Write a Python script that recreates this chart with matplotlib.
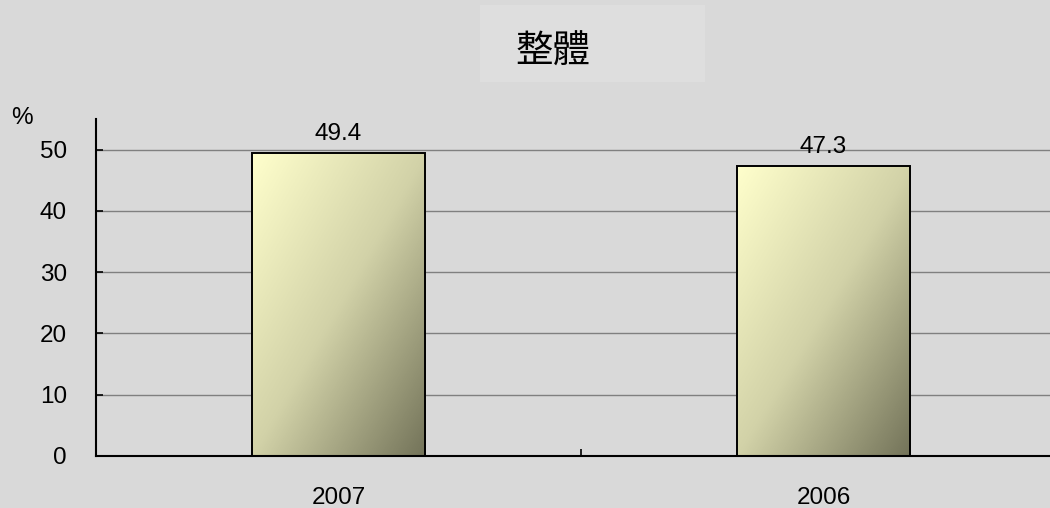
import numpy as np
import matplotlib.pyplot as plt
from matplotlib.colors import LinearSegmentedColormap
from matplotlib.patches import Rectangle

plt.rcParams['font.family'] = ['Liberation Sans', 'Noto Sans CJK TC', 'DejaVu Sans']

title = "整體"
years = ["2007", "2006"]
values = [49.4, 47.3]
y_ticks = [0, 10, 20, 30, 40, 50]

bg = "#d9d9d9"
fs = 17.5
fig = plt.figure(figsize=(10.5, 5.08), dpi=100, facecolor=bg)
ax = fig.add_axes([96 / 1050, 52 / 508, 970 / 1050, 337 / 508])
ax.set_facecolor(bg)

# title box
fig.patches.append(Rectangle((480 / 1050, 1 - 82 / 508), 225 / 1050, 77 / 508,
                             transform=fig.transFigure, facecolor="#dedede",
                             edgecolor="none", zorder=0))
fig.text(553 / 1050, 1 - 52 / 508, title, fontsize=27, ha="center", va="center",
         family=['Noto Sans CJK TC', 'DejaVu Sans'], fontweight="light")

cmap = LinearSegmentedColormap.from_list("g", ["#ffffcc", "#d2d2a8", "#737359"])
u, v = np.meshgrid(np.linspace(0, 1, 200), np.linspace(0, 1, 200))
grad = (u + v) / 2

x = np.arange(len(years))
bars = ax.bar(x, values, width=0.357, facecolor="none", edgecolor="black",
              linewidth=1.4, zorder=3)
for b, val in zip(bars, values):
    x0, w, h = b.get_x(), b.get_width(), b.get_height()
    im = ax.imshow(grad, cmap=cmap, extent=[x0, x0 + w, 0, h], origin="upper",
                   aspect="auto", zorder=2)
    im.set_clip_path(b)
    ax.text(x0 + w / 2, h + 1.3, f"{val:.1f}", ha="center", va="bottom", fontsize=fs)

ax.set_xlim(-0.5, len(years) - 0.5)
ax.set_ylim(0, 55)
ax.set_yticks(y_ticks)
ax.set_xticks(x)
ax.set_xticklabels(years)
ax.set_xticks([0.5], minor=True)
ax.tick_params(axis="x", which="major", length=0, pad=22, labelsize=fs)
ax.tick_params(axis="x", which="minor", direction="in", length=5, width=1.2)
ax.tick_params(axis="y", direction="in", length=5, width=1.2, pad=21, labelsize=fs)
ax.yaxis.grid(True, color="#808080", linewidth=1)
ax.set_axisbelow(True)
for s in ["top", "right"]:
    ax.spines[s].set_visible(False)
for s in ["left", "bottom"]:
    ax.spines[s].set_linewidth(1.5)
fig.text(22 / 1050, 1 - 118 / 508, "%", fontsize=fs, ha="center", va="center")

fig.savefig("out.png", facecolor=bg)
